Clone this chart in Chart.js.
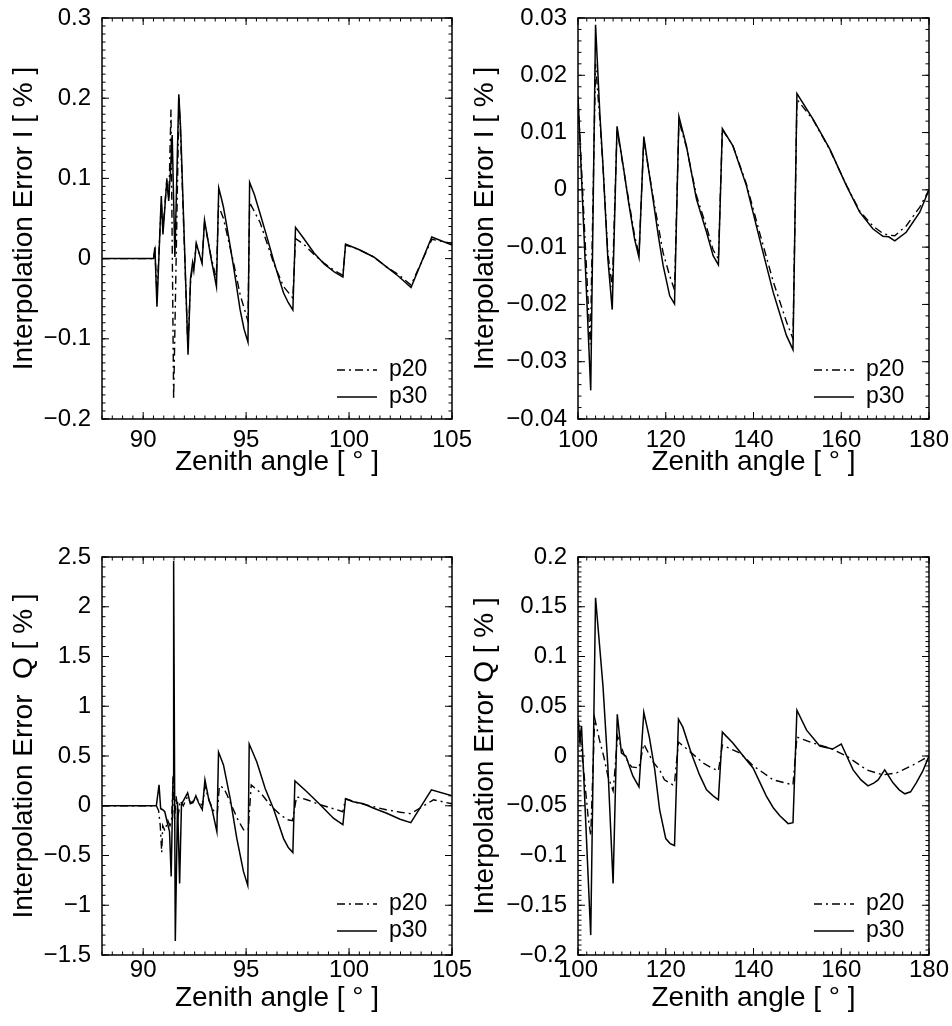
<!DOCTYPE html>
<html>
<head>
<meta charset="utf-8">
<script src="https://cdn.jsdelivr.net/npm/chart.js@4.4.1/dist/chart.umd.min.js"></script>
<style>
  body { margin: 0; background: #fff; overflow: hidden; }
  canvas { position: absolute; }
</style>
</head>
<body>
<canvas id="g1" width="480" height="500" style="left:0;top:0"></canvas>
<canvas id="g2" width="486" height="500" style="left:466px;top:0"></canvas>
<canvas id="g3" width="480" height="526" style="left:0;top:500px"></canvas>
<canvas id="g4" width="486" height="526" style="left:466px;top:500px"></canvas>
<script>
// ---- dados ----
// I, zenite 88-105
const angI20Esq = [88, 90.5, 90.57, 90.67, 90.88, 90.96, 91.15, 91.25, 91.35, 91.48, 91.74, 91.82, 92.17, 92.3, 92.4, 92.46, 92.58, 92.85, 92.98, 93.3, 93.55, 93.66, 93.9, 94.39, 94.71, 95.09, 95.17, 95.68, 96.33, 96.82, 97.27, 97.4, 97.8, 98.3, 98.8, 99.3, 99.7, 99.83, 100.5, 101.2, 101.8, 102.4, 103.01, 104.02, 105];
const errI20Esq = [0, 0, 0.01, -0.045, 0.07, 0.035, 0.1, 0.075, 0.186, -0.176, 0.2, 0.15, -0.11, -0.03, -0.008, -0.012, 0.018, -0.004, 0.045, 0.002, -0.025, 0.066, 0.05, -0.005, -0.045, -0.078, 0.07, 0.045, -0.005, -0.035, -0.049, 0.025, 0.018, 0.005, -0.006, -0.015, -0.021, 0.017, 0.011, 0.002, -0.01, -0.02, -0.033, 0.024, 0.019];
const angI30Esq = [88, 90.5, 90.57, 90.67, 90.88, 90.96, 91.15, 91.24, 91.34, 91.41, 91.54, 91.73, 91.82, 92.18, 92.3, 92.4, 92.46, 92.58, 92.86, 92.98, 93.1, 93.3, 93.56, 93.67, 93.8, 93.9, 94.1, 94.39, 94.71, 94.9, 95.09, 95.17, 95.4, 95.68, 96.0, 96.33, 96.6, 96.82, 97.05, 97.27, 97.4, 97.8, 98.3, 98.8, 99.3, 99.7, 99.83, 100.5, 101.2, 101.8, 102.4, 103.01, 104.02, 105];
const errI30Esq = [0, 0, 0.014, -0.06, 0.078, 0.03, 0.098, 0.072, 0.115, 0.154, 0.002, 0.205, 0.162, -0.12, -0.025, -0.005, -0.015, 0.019, -0.006, 0.048, 0.03, 0.0, -0.035, 0.088, 0.075, 0.064, 0.035, -0.01, -0.064, -0.088, -0.104, 0.095, 0.08, 0.056, 0.028, -0.002, -0.025, -0.043, -0.055, -0.064, 0.039, 0.025, 0.007, -0.007, -0.017, -0.023, 0.018, 0.011, 0.002, -0.01, -0.022, -0.036, 0.027, 0.017];

// I, zenite 100-180
const angI20Dir = [100, 102.8, 104.0, 105.0, 105.7, 106.8, 107.8, 108.9, 110.3, 112.9, 113.9, 115.0, 117.1, 119.4, 120.9, 122.0, 123.0, 124.7, 127.0, 129.3, 130.8, 132.0, 132.9, 135.3, 138.4, 141.4, 144.5, 147.5, 149.0, 149.9, 153.6, 157.4, 161.2, 164.2, 167.2, 169.5, 170.8, 172.2, 174.8, 177.9, 180];
const errI20Dir = [0.016, -0.027, 0.022, 0.012, 0.004, -0.011, -0.017, 0.0105, 0.004, -0.008, -0.0112, 0.0088, -0.0012, -0.011, -0.015, -0.0175, 0.012, 0.0075, -0.001, -0.0065, -0.0105, -0.012, 0.0105, 0.0077, 0.001, -0.0075, -0.016, -0.023, -0.026, 0.0158, 0.0122, 0.007, 0.0008, -0.0037, -0.0063, -0.0076, -0.0079, -0.008, -0.0063, -0.003, 0];
const angI30Dir = [100, 102.9, 104.0, 105.0, 105.7, 106.8, 107.8, 108.9, 110.3, 111.5, 112.9, 113.9, 115.0, 116.0, 117.1, 118.3, 119.4, 120.9, 122.0, 123.0, 124.7, 127.0, 129.3, 130.8, 132.0, 132.9, 135.3, 138.4, 141.4, 144.5, 147.5, 149.0, 149.9, 153.6, 157.4, 161.2, 164.2, 167.2, 169.5, 170.8, 172.2, 174.8, 177.9, 180];
const errI30Dir = [0.0164, -0.035, 0.0288, 0.013, 0.0042, -0.012, -0.0209, 0.0111, 0.0042, -0.002, -0.0086, -0.0118, 0.0093, 0.004, -0.0016, -0.008, -0.0132, -0.0185, -0.0199, 0.0128, 0.0077, -0.0016, -0.0074, -0.0115, -0.0131, 0.0107, 0.0077, 0.0007, -0.0086, -0.0179, -0.0254, -0.0279, 0.0168, 0.0123, 0.0071, 0.0007, -0.0039, -0.0068, -0.0081, -0.0082, -0.0089, -0.0074, -0.0039, 0];

// Q, zenite 88-105
const angQ20Esq = [88, 90.64, 90.75, 90.83, 90.9, 90.95, 91.05, 91.2, 91.3, 91.38, 91.46, 91.52, 91.6, 91.7, 91.8, 91.95, 92.15, 92.3, 92.45, 92.58, 92.75, 92.88, 93.0, 93.2, 93.45, 93.6, 93.7, 93.9, 94.05, 94.3, 94.6, 94.9, 95.1, 95.25, 95.7, 96.2, 96.66, 97.0, 97.25, 97.45, 97.95, 98.6, 99.4, 99.7, 99.83, 100.4, 101.2, 101.8, 102.5, 103.0, 104.1, 105];
const errQ20Esq = [0, 0, -0.05, -0.2, -0.47, -0.2, -0.25, -0.15, -0.2, -0.15, 0.3, -0.15, 0.1, -0.1, 0.05, 0.0, 0.09, 0.03, 0.05, 0.08, 0.03, 0.0, 0.2, 0.05, -0.06, -0.08, 0.2, 0.18, 0.12, 0.0, -0.14, -0.25, -0.24, 0.21, 0.13, 0.0, -0.09, -0.14, -0.15, 0.09, 0.06, 0.01, -0.04, -0.06, 0.07, 0.03, -0.01, -0.04, -0.065, -0.08, 0.06, 0.02];
const angQ30Esq = [88, 90.64, 90.77, 90.85, 90.95, 91.05, 91.16, 91.28, 91.36, 91.45, 91.48, 91.56, 91.67, 91.77, 91.86, 91.95, 92.16, 92.29, 92.42, 92.56, 92.69, 92.87, 93.0, 93.18, 93.34, 93.58, 93.66, 93.9, 94.23, 94.55, 94.87, 95.08, 95.15, 95.52, 95.93, 96.33, 96.82, 97.05, 97.27, 97.37, 97.95, 98.6, 99.24, 99.7, 99.83, 100.2, 100.7, 101.2, 101.83, 102.48, 103.0, 104.0, 105];
const errQ30Esq = [0, 0, 0.21, -0.03, -0.04, -0.06, -0.16, -0.26, -0.71, 0.28, 2.46, -1.36, 0.04, -0.78, 0.01, 0.05, 0.13, 0.02, 0.03, 0.1, 0.03, -0.04, 0.26, 0.07, -0.03, -0.26, 0.54, 0.41, 0.07, -0.33, -0.66, -0.8, 0.62, 0.44, 0.17, -0.03, -0.33, -0.42, -0.47, 0.25, 0.14, 0.01, -0.125, -0.19, 0.07, 0.04, 0.02, -0.025, -0.075, -0.135, -0.17, 0.16, 0.1];

// Q, zenite 100-180
const angQ20Dir = [100, 100.5, 101.5, 102.3, 102.9, 103.8, 104.9, 105.9, 106.8, 108.0, 108.4, 109.0, 110.6, 112.2, 113.9, 115.0, 117.1, 118.6, 119.7, 121.6, 122.0, 122.9, 125.1, 128.5, 130.5, 132.0, 132.9, 136.9, 140.0, 144.5, 149.0, 149.9, 153.6, 157.4, 161.2, 165.8, 169.5, 172.6, 176.4, 180];
const errQ20Dir = [0.037, 0.02, -0.024, -0.061, -0.08, 0.038, 0.016, -0.001, -0.02, -0.035, -0.015, 0.02, 0.0, -0.011, -0.012, 0.012, -0.006, -0.014, -0.024, -0.029, -0.027, 0.014, 0.006, -0.007, -0.012, -0.015, 0.011, 0.003, -0.01, -0.024, -0.029, 0.019, 0.013, 0.008, 0.0, -0.014, -0.019, -0.017, -0.009, 0];
const angQ30Dir = [100, 100.4, 100.8, 102.9, 104.0, 105.7, 106.8, 108.0, 108.95, 109.9, 110.9, 112.5, 113.9, 115.0, 116.3, 117.5, 118.6, 120.0, 121.0, 122.0, 122.9, 123.9, 125.8, 127.7, 129.3, 130.8, 132.0, 132.9, 135.3, 138.4, 139.9, 141.4, 142.9, 144.5, 146.0, 147.9, 149.0, 149.9, 152.1, 155.1, 158.0, 160.0, 162.7, 164.5, 166.1, 167.5, 168.4, 169.9, 171.8, 173.2, 174.5, 175.8, 177.1, 178.6, 180];
const errQ30Dir = [0.038, 0.016, 0.03, -0.18, 0.159, 0.07, -0.01, -0.128, 0.042, 0.003, 0.0, -0.02, -0.031, 0.044, 0.018, -0.014, -0.054, -0.083, -0.088, -0.09, 0.037, 0.029, 0.003, -0.019, -0.034, -0.04, -0.044, 0.024, 0.013, -0.004, -0.012, -0.026, -0.04, -0.052, -0.06, -0.068, -0.067, 0.046, 0.026, 0.01, 0.007, 0.012, -0.014, -0.024, -0.03, -0.027, -0.024, -0.014, -0.027, -0.034, -0.038, -0.036, -0.027, -0.015, 0];

// marcas dos eixos
const ticksXEsq = [90, 95, 100, 105];
const ticksXDir = [100, 120, 140, 160, 180];
const ticksIEsq = [-0.2, -0.1, 0, 0.1, 0.2, 0.3];
const ticksIDir = [-0.04, -0.03, -0.02, -0.01, 0, 0.01, 0.02, 0.03];
const ticksQEsq = [-1.5, -1, -0.5, 0, 0.5, 1, 1.5, 2, 2.5];
const ticksQDir = [-0.2, -0.15, -0.1, -0.05, 0, 0.05, 0.1, 0.15, 0.2];
const legendas = ['p20', 'p30'];

const FONTE = 'Liberation Sans, Arial, Helvetica, sans-serif';

function fmt(v) {
    return v < 0 ? '\u2212' + String(Math.abs(v)) : String(v);
}

function pontos(xs, ys) {
    return xs.map((x, i) => ({ x: x, y: ys[i] }));
}

// moldura fechada, marcas para dentro e legenda interna
const molduraPlugin = {
    id: 'moldura',
    afterDraw(chart, args, opts) {
        const { ctx, chartArea: a, scales } = chart;
        ctx.save();
        ctx.strokeStyle = '#000';
        ctx.lineWidth = 1.5;
        ctx.strokeRect(a.left, a.top, a.right - a.left, a.bottom - a.top);

        ctx.lineWidth = 1;
        ctx.beginPath();
        const marcar = (scale, valores, len) => {
            valores.forEach(v => {
                const p = scale.getPixelForValue(v);
                if (scale.isHorizontal()) {
                    ctx.moveTo(p, a.bottom); ctx.lineTo(p, a.bottom - len);
                    ctx.moveTo(p, a.top); ctx.lineTo(p, a.top + len);
                } else {
                    ctx.moveTo(a.left, p); ctx.lineTo(a.left + len, p);
                    ctx.moveTo(a.right, p); ctx.lineTo(a.right - len, p);
                }
            });
        };
        const menores = (scale, passo) => {
            const out = [];
            const i0 = Math.ceil(scale.min / passo - 1e-6), i1 = Math.floor(scale.max / passo + 1e-6);
            for (let i = i0; i <= i1; i++) out.push(i * passo);
            return out;
        };
        marcar(scales.x, menores(scales.x, opts.menorX), 3.5);
        marcar(scales.y, menores(scales.y, opts.menorY), 3.5);
        marcar(scales.x, scales.x.ticks.map(t => t.value), 7);
        marcar(scales.y, scales.y.ticks.map(t => t.value), 7);
        ctx.stroke();

        // legenda
        ctx.font = '23px ' + FONTE;
        ctx.fillStyle = '#000';
        ctx.textBaseline = 'middle';
        chart.data.datasets.forEach((ds, i) => {
            const yy = a.bottom - opts.legY[i];
            ctx.beginPath();
            ctx.lineWidth = ds.borderWidth;
            ctx.setLineDash(ds.borderDash || []);
            ctx.moveTo(a.right - 115, yy);
            ctx.lineTo(a.right - 75, yy);
            ctx.stroke();
            ctx.setLineDash([]);
            ctx.fillText(ds.label, a.right - 63, yy);
        });
        ctx.restore();
    }
};

function montarGrafico(id, c) {
    const ctx = document.getElementById(id).getContext('2d');
    return new Chart(ctx, {
        type: 'line',
        data: {
            datasets: [
                { label: legendas[0], data: pontos(c.x20, c.y20), borderColor: '#000', borderWidth: 1.4, borderDash: [8, 4, 2, 4], pointRadius: 0, tension: 0, fill: false },
                { label: legendas[1], data: pontos(c.x30, c.y30), borderColor: '#000', borderWidth: 1.5, pointRadius: 0, tension: 0, fill: false }
            ]
        },
        options: {
            responsive: false,
            animation: false,
            events: [],
            layout: { padding: c.pad },
            plugins: {
                legend: { display: false },
                tooltip: { enabled: false },
                moldura: { menorX: c.menorX, menorY: c.menorY, legY: c.legY }
            },
            scales: {
                x: {
                    type: 'linear', min: c.xMin, max: c.xMax,
                    afterBuildTicks: s => { s.ticks = c.xTicks.map(v => ({ value: v })); },
                    // altura fixa e sem folga lateral, para a area do grafico nao encolher
                    afterFit: s => { s.height = c.altX; s.paddingLeft = 0; s.paddingRight = 0; },
                    grid: { display: false, drawTicks: false },
                    border: { display: false },
                    ticks: { color: '#000', font: { family: FONTE, size: 24 }, padding: c.padTickX, maxRotation: 0, callback: v => fmt(v) },
                    title: { display: true, text: 'Zenith angle [ \u00b0 ]', color: '#000', font: { family: FONTE, size: 28 }, padding: { top: 0, bottom: c.padTitX } }
                },
                y: {
                    type: 'linear', min: c.yMin, max: c.yMax,
                    afterBuildTicks: s => { s.ticks = c.yTicks.map(v => ({ value: v })); },
                    afterFit: s => { s.width = c.largY; s.paddingTop = 0; s.paddingBottom = 0; },
                    grid: { display: false, drawTicks: false },
                    border: { display: false },
                    ticks: { color: '#000', font: { family: FONTE, size: 24 }, padding: 11, callback: v => fmt(v) },
                    title: { display: true, text: c.tituloY, color: '#000', font: { family: FONTE, size: 28 }, padding: { top: c.padTitY, bottom: 0 } }
                }
            }
        },
        plugins: [molduraPlugin]
    });
}

montarGrafico('g1', {
    x20: angI20Esq, y20: errI20Esq, x30: angI30Esq, y30: errI30Esq,
    xMin: 88, xMax: 105, xTicks: ticksXEsq, yMin: -0.2, yMax: 0.3, yTicks: ticksIEsq,
    menorX: 0.5, menorY: 0.01, tituloY: 'Interpolation Error I [ % ]',
    pad: { top: 18, right: 28, left: 0, bottom: 0 }, largY: 102, altX: 81, padTitY: 7, padTitX: 21, padTickX: 7, legY: [49, 22]
});
montarGrafico('g2', {
    x20: angI20Dir, y20: errI20Dir, x30: angI30Dir, y30: errI30Dir,
    xMin: 100, xMax: 180, xTicks: ticksXDir, yMin: -0.04, yMax: 0.03, yTicks: ticksIDir,
    menorX: 2, menorY: 0.002, tituloY: 'Interpolation Error I [ % ]',
    pad: { top: 18, right: 23, left: 0, bottom: 0 }, largY: 112, altX: 81, padTitY: 2, padTitX: 21, padTickX: 7, legY: [49, 22]
});
montarGrafico('g3', {
    x20: angQ20Esq, y20: errQ20Esq, x30: angQ30Esq, y30: errQ30Esq,
    xMin: 88, xMax: 105, xTicks: ticksXEsq, yMin: -1.5, yMax: 2.5, yTicks: ticksQEsq,
    menorX: 0.5, menorY: 0.1, tituloY: 'Interpolation Error  Q [ % ]',
    pad: { top: 57, right: 28, left: 0, bottom: 0 }, largY: 102, altX: 71, padTitY: 7, padTitX: 11, padTickX: 1, legY: [51, 24]
});
montarGrafico('g4', {
    x20: angQ20Dir, y20: errQ20Dir, x30: angQ30Dir, y30: errQ30Dir,
    xMin: 100, xMax: 180, xTicks: ticksXDir, yMin: -0.2, yMax: 0.2, yTicks: ticksQDir,
    menorX: 2, menorY: 0.005, tituloY: 'Interpolation Error Q [ % ]',
    pad: { top: 57, right: 23, left: 0, bottom: 0 }, largY: 112, altX: 71, padTitY: 2, padTitX: 11, padTickX: 1, legY: [51, 24]
});
</script>
</body>
</html>
